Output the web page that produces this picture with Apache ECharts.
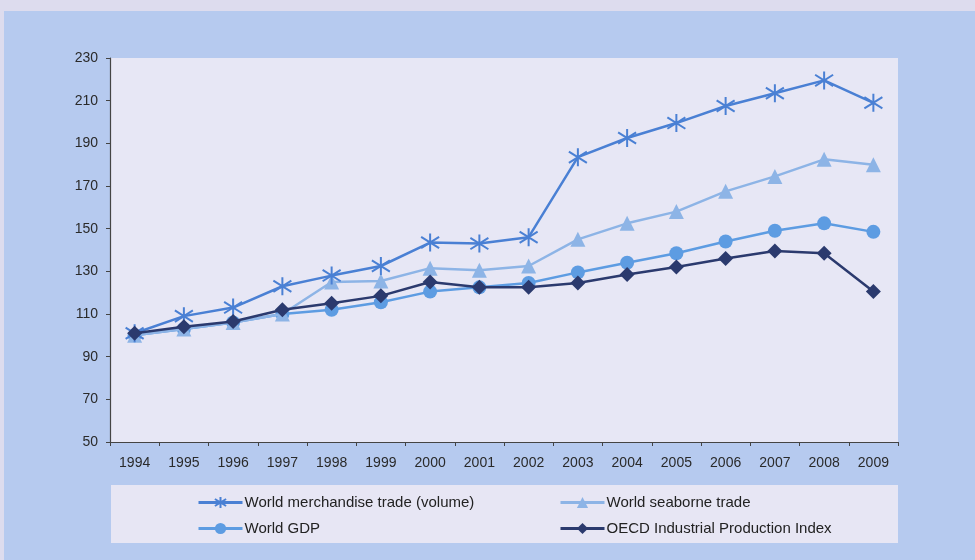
<!DOCTYPE html>
<html><head><meta charset="utf-8">
<script src="https://cdn.jsdelivr.net/npm/echarts@6/dist/echarts.min.js"></script>
<style>html,body{margin:0;padding:0;background:#dddcee;}#c{width:975px;height:560px;}</style>
</head><body><div id="c"></div>
<script>
const years = ['1994','1995','1996','1997','1998','1999','2000','2001','2002','2003','2004','2005','2006','2007','2008','2009'];
const merchandise = [101,109,113,123,128,132.5,143.5,143,146,183.5,192.5,199.5,207.5,213.5,219.5,209];
const seaborne = [100,103,106,110,125,125.5,131.5,130.5,132.5,145,152.5,158,167.5,174.5,182.5,180];
const gdp = [100,103,106,110,112,115.5,120.5,122.5,124.5,129.5,134,138.5,144,149,152.5,148.5];
const oecd = [101,104,106.5,112,115,118.5,125,122.5,122.5,124.5,128.5,132,136,139.5,138.5,120.5];
const yTicks = [50,70,90,110,130,150,170,190,210,230];

const names = ['World merchandise trade (volume)','World seaborne trade','World GDP','OECD Industrial Production Index'];
const colors = ['#4a80d4','#8db4e6','#5d9ce2','#2b3a6e'];
const asterisk = 'path://M0,-10L0,10M-7.8,-6.3L7.8,6.3M-7.8,6.3L7.8,-6.3';
const symbols = [asterisk,'triangle','circle','diamond'];
const sizes = [18,15,14,15];
const datas = [merchandise, seaborne, gdp, oecd];

const chart = echarts.init(document.getElementById('c'));
const font = '"Liberation Sans", Arial, sans-serif';
const series = names.map((n,i)=>({
  name:n, type:'line', data:datas[i], symbol:symbols[i], symbolSize:sizes[i],
  showAllSymbol:true,
  lineStyle:{color:colors[i], width:2.5},
  itemStyle: i===0 ? {color:colors[i], borderColor:colors[i], borderWidth:2} : {color:colors[i]},
  z: [3,2,1,4][i]
}));
const legendPos = [[197,495],[559,495],[197,521],[559,521]];
const legends = names.map((n,i)=>({
  data:[n], left:legendPos[i][0], top:legendPos[i][1], itemWidth:44, itemHeight:14, itemGap:0,
  lineStyle:{width:3},
  textStyle:{fontFamily:font, fontSize:15, color:'#222', padding:[0,0,0,-3]}, padding:0
}));
chart.setOption({
  animation:false,
  textStyle:{fontFamily:font},
  graphic:[
    {type:'rect', z:-10, shape:{x:4,y:11,width:971,height:549}, style:{fill:'#b6caef'}},
    {type:'rect', z:-9, shape:{x:111,y:485,width:787,height:58}, style:{fill:'#e7e6f4'}}
  ],
  grid:{left:110, top:58, right:77, bottom:118, show:true, backgroundColor:'#e7e7f5', borderWidth:0},
  legend: legends,
  xAxis:{type:'category', data:years, boundaryGap:true,
    axisLine:{lineStyle:{color:'#444', width:1.2}},
    axisTick:{show:true, length:4, lineStyle:{color:'#444'}},
    axisLabel:{color:'#2a2a2a', fontSize:14, margin:14, fontFamily:font}},
  yAxis:{type:'value', min:yTicks[0], max:yTicks[yTicks.length-1], interval:20,
    splitLine:{show:false},
    axisLine:{show:true, lineStyle:{color:'#444', width:1.2}},
    axisTick:{show:true, length:4, lineStyle:{color:'#444'}},
    axisLabel:{color:'#2a2a2a', fontSize:14, margin:12, fontFamily:font}},
  series: series
});
</script></body></html>
